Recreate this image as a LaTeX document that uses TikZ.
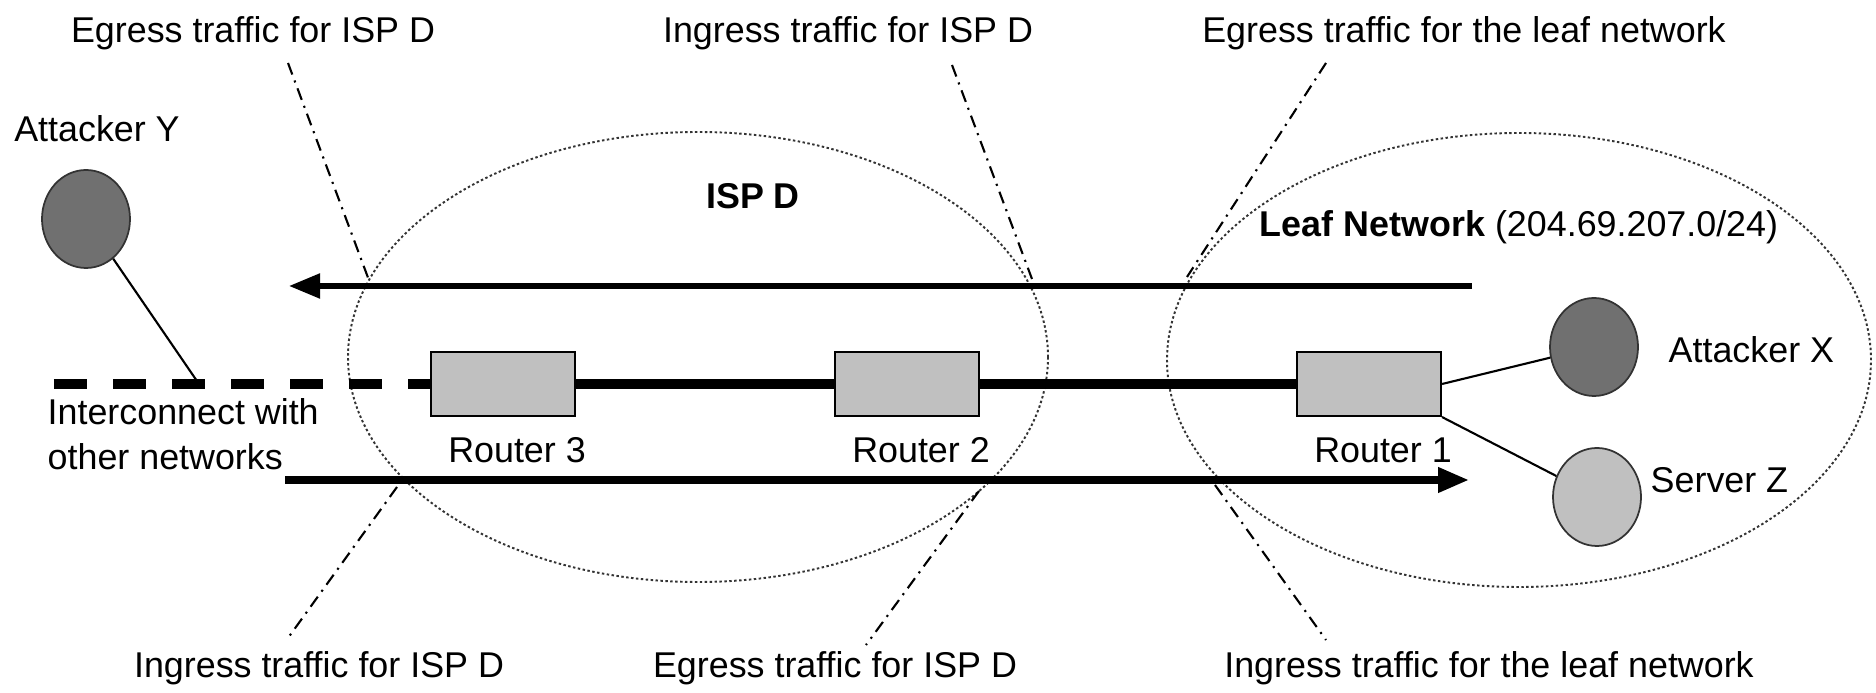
\documentclass[tikz,border=0pt]{standalone}
\usepackage{fontspec}
\setmainfont{Liberation Sans}
\usetikzlibrary{shapes.geometric,arrows.meta}

\definecolor{hostdark}{HTML}{707070}
\definecolor{boxgray}{HTML}{C0C0C0}

\tikzset{
  router/.style={draw, fill=boxgray, line width=0.6pt, minimum width=1.44cm, minimum height=0.64cm, inner sep=0pt},
  host/.style={ellipse, draw=black!80, line width=0.5pt, minimum width=0.88cm, minimum height=0.98cm, inner sep=0pt},
  txt/.style={inner sep=0pt},
  cloudline/.style={draw=black!80, line width=0.55pt, dash pattern=on 0.7pt off 0.7pt},
  cutline/.style={line width=0.6pt, dash pattern=on 3.5pt off 1.8pt on 0.6pt off 1.8pt},
  bus/.style={line width=2.8pt},
  link/.style={line width=0.6pt},
  flow/.style={-{Triangle[length=0.31cm,width=0.24cm]}}
}

\begin{document}
\begin{tikzpicture}[font=\fontsize{10.2}{12.8}\selectfont]
\useasboundingbox (0,0) rectangle (18.76,6.93);

% Netze
\draw[cloudline] (6.98,3.36) ellipse [x radius=3.50, y radius=2.25];
\draw[cloudline] (15.19,3.33) ellipse [x radius=3.52, y radius=2.27];
\node[txt, anchor=base] (isp) at (7.53,4.84) {\textbf{ISP D}};
\node[txt, anchor=base] (leaf) at (15.19,4.56) {\textbf{Leaf Network} (204.69.207.0/24)};

% Router
\node[router] (r3) at (5.03,3.09) {};
\node[router] (r2) at (9.07,3.09) {};
\node[router] (r1) at (13.69,3.09) {};
\node[txt, anchor=base] (l3) at (5.17,2.30) {Router 3};
\node[txt, anchor=base] (l2) at (9.21,2.30) {Router 2};
\node[txt, anchor=base] (l1) at (13.83,2.30) {Router 1};

% Leitung
\coordinate (edge) at (0.54,3.09);
\coordinate (tap) at (1.99,3.09);
\draw[bus, dash pattern=on 0.33cm off 0.26cm] (edge) -- (r3.west);
\draw[bus] (r3) -- (r2);
\draw[bus] (r2) -- (r1);

% Hosts
\node[host, fill=hostdark] (ay) at (0.86,4.74) {};
\node[host, fill=hostdark] (ax) at (15.94,3.46) {};
\node[host, fill=boxgray] (sz) at (15.97,1.96) {};
\node[txt, anchor=base] (lay) at (0.97,5.51) {Attacker Y};
\node[txt, anchor=base west] (lax) at (16.68,3.30) {Attacker X};
\node[txt, anchor=base west] (lsz) at (16.50,2.00) {Server Z};
\node[txt, anchor=north west, align=left] (inet) at (0.47,2.95) {Interconnect with\\other networks};
\draw[link] (ay) -- (tap);
\draw[link] (r1.east) -- (ax);
\draw[link] (r1.south east) -- (sz);

% Verkehr
\draw[flow, line width=1.5pt] (14.72,4.07) -- (2.89,4.07);
\draw[flow, line width=2pt] (2.85,2.13) -- (14.69,2.13);

% Grenzlinien
\foreach \xa/\ya/\xb/\yb in {2.88/6.30/3.70/4.10, 3.97/2.06/2.88/0.55,
    9.52/6.28/10.32/4.14, 9.79/2.02/8.66/0.48,
    13.26/6.30/11.87/4.16, 12.15/2.08/13.26/0.53}
  \draw[cutline] (\xa,\ya) -- (\xb,\yb);

% Beschriftungen
\node[txt, anchor=base] (t1) at (2.53,6.50) {Egress traffic for ISP D};
\node[txt, anchor=base] (t2) at (8.48,6.50) {Ingress traffic for ISP D};
\node[txt, anchor=base] (t3) at (14.64,6.50) {Egress traffic for the leaf network};
\node[txt, anchor=base] (b1) at (3.19,0.15) {Ingress traffic for ISP D};
\node[txt, anchor=base] (b2) at (8.35,0.15) {Egress traffic for ISP D};
\node[txt, anchor=base] (b3) at (14.89,0.15) {Ingress traffic for the leaf network};

\end{tikzpicture}
\end{document}
